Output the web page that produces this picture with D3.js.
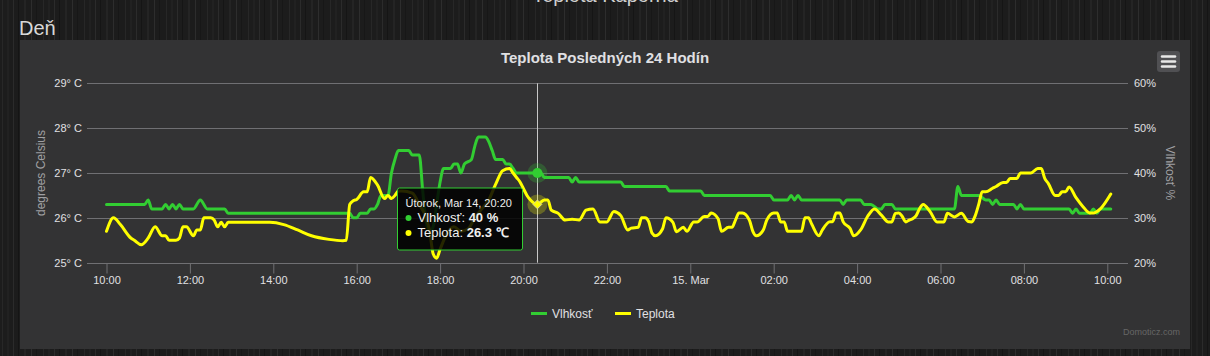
<!DOCTYPE html>
<html><head><meta charset="utf-8">
<script src="https://cdn.jsdelivr.net/npm/d3@7"></script>
<style>
body{margin:0;background:#1b1b1b;overflow:hidden}
svg{display:block}
text{font-family:"Liberation Sans",Arial,sans-serif}
</style>
</head><body>
<svg id="c" width="1210" height="356"></svg>
<script>
// ---------------- DATA ----------------
const humTimes = ["10:00","10:55","11:00","11:05","11:20","11:25","11:30","11:35","11:40","11:45","11:50","12:05","12:15","12:25","12:50","12:55","15:50","15:55","16:00","16:05","16:15","16:20","16:25","16:30","16:35","16:45","16:50","16:55","17:00","17:15","17:20","17:30","17:35","17:40","17:45","17:50","17:55","18:00","18:05","18:15","18:20","18:25","18:30","18:35","18:45","18:50","18:55","19:05","19:10","19:15","19:20","19:30","19:35","19:40","19:45","19:50","20:20","20:25","20:30","21:05","21:10","21:15","21:20","22:20","22:25","23:25","23:30","00:15","00:20","01:55","02:00","02:20","02:25","02:30","02:35","02:40","03:35","03:40","03:45","04:05","04:10","04:20","04:30","04:35","04:40","04:50","04:55","06:20","06:25","06:30","06:55","07:05","07:10","07:15","07:20","07:25","07:45","07:50","07:55","08:00","09:05","09:10","09:15","09:20","09:35","09:40","09:45","09:50","10:05"];
const humValues = [33,33,34,32,32,33,32,33,32,33,32,32,34,32,32,31,31,30,30,31,31,32,32,33,35,35,40,43,45,45,44,44,36,29,27,28,33,38,41,41,42,42,40,42,43,46,48,48,47,45,43,43,42,42,41,40,40,40,39,39,38,39,38,38,37,37,36,36,35,35,34,34,35,34,35,34,34,33,34,34,33,33,32,32,33,33,32,32,37,35,35,34,34,33,34,33,33,32,33,32,32,31,32,31,31,32,31,32,32];

const tempTimes = ["10:00","10:10","10:20","10:35","10:40","10:50","11:00","11:10","11:20","11:25","11:30","11:40","11:45","11:50","11:55","12:05","12:10","12:15","12:20","12:30","12:35","12:40","12:45","12:50","12:55","13:55","14:15","14:35","14:55","15:20","15:40","15:45","15:50","15:55","16:00","16:10","16:15","16:20","16:30","16:40","16:45","16:50","16:55","17:00","17:05","17:20","17:30","17:40","17:45","17:50","17:55","18:00","18:10","18:20","18:30","18:40","18:50","19:00","19:10","19:20","19:30","19:40","19:45","19:50","19:55","20:00","20:05","20:10","20:20","20:30","20:35","20:40","20:50","21:00","21:10","21:20","21:30","21:40","21:50","22:00","22:10","22:20","22:30","22:35","22:45","22:50","22:55","23:00","23:05","23:10","23:20","23:25","23:35","23:40","23:50","23:55","00:05","00:10","00:20","00:25","00:30","00:40","00:45","00:55","01:00","01:05","01:10","01:15","01:25","01:30","01:35","01:45","01:50","02:00","02:05","02:10","02:15","02:20","02:40","02:45","02:50","02:55","03:05","03:10","03:20","03:25","03:30","03:35","03:40","03:50","03:55","04:05","04:15","04:25","04:35","04:45","04:50","04:55","05:00","05:05","05:10","05:15","05:20","05:25","05:30","05:35","05:45","05:55","06:05","06:10","06:20","06:30","06:40","06:45","06:50","06:55","07:00","07:05","07:15","07:20","07:30","07:35","07:40","07:50","07:55","08:10","08:20","08:25","08:30","08:35","08:45","08:50","08:55","09:00","09:05","09:15","09:25","09:35","09:40","09:50","10:05"];
const tempValues = [25.7,26.0,25.85,25.55,25.5,25.4,25.55,25.8,25.6,25.6,25.5,25.5,25.55,25.8,25.8,25.6,25.73,25.73,26.0,26.0,25.95,25.8,25.9,25.8,25.9,25.9,25.85,25.73,25.6,25.52,25.49,25.5,26.3,26.38,26.41,26.58,26.58,26.9,26.73,26.43,26.5,26.43,26.5,26.6,26.6,26.55,26.3,26.0,25.7,25.2,25.1,25.3,25.65,25.8,25.7,25.75,26.0,26.2,26.4,26.75,27.05,27.1,27.0,26.9,26.8,26.65,26.5,26.4,26.3,26.4,26.4,26.17,26.1,25.95,25.97,25.95,26.17,26.2,25.91,25.91,26.14,26.05,25.73,25.77,25.79,26.0,26.0,25.92,25.66,25.6,25.75,26.0,25.9,25.69,25.79,25.7,25.91,25.91,26.03,26.03,26.11,25.98,25.7,25.79,25.79,25.95,26.11,26.11,25.95,25.7,25.6,25.73,25.95,26.11,26.11,25.91,25.91,25.7,25.7,26.0,26.0,25.85,25.6,25.73,25.91,25.92,26.11,26.11,25.91,25.76,25.6,25.73,26.03,26.2,26.06,25.91,25.91,26.1,26.11,26.03,25.91,25.95,25.98,26.05,26.21,26.3,26.14,25.91,25.91,26.1,26.02,26.1,25.92,25.91,26.05,26.3,26.58,26.58,26.66,26.7,26.79,26.79,26.88,26.88,27.0,27.0,27.1,27.1,26.88,26.77,26.5,26.5,26.58,26.58,26.69,26.45,26.25,26.11,26.11,26.2,26.53];

const xTickTimes  = ["10:00","12:00","14:00","16:00","18:00","20:00","22:00","00:00","02:00","04:00","06:00","08:00","10:00"];
const xTickLabels = ["10:00","12:00","14:00","16:00","18:00","20:00","22:00","15. Mar","02:00","04:00","06:00","08:00","10:00"];
const tempTicks = [25,26,27,28,29];
const tempTickLabels = ["25° C","26° C","27° C","28° C","29° C"];
const humTicks = [20,30,40,50,60];
const humTickLabels = ["20%","30%","40%","50%","60%"];
const seriesNames = ["Vlhkosť","Teplota"];
const hoverTime = "20:20";
const weekdays = ["Nedeľa","Pondelok","Útorok","Streda","Štvrtok","Piatok","Sobota"];

// ---------------- HELPERS ----------------
function parseSeq(times){
  let day = 14, prev = -1;
  return times.map(s => {
    const [h,m] = s.split(":").map(Number);
    const mins = h*60+m;
    if (mins < prev) day++;
    prev = mins;
    return new Date(2023, 2, day, h, m);
  });
}
const humDates = parseSeq(humTimes);
const tempDates = parseSeq(tempTimes);
const tickDates = parseSeq(xTickTimes);
const hum = humDates.map((d,i)=>({t:d, v:humValues[i]}));
const temp = tempDates.map((d,i)=>({t:d, v:tempValues[i]}));

const GREEN = "#32cd32", YELLOW = "#ffff00";
const W = 1210, H = 356;
const plot = {l:87, r:1128, t:83.3, b:262.7};

const svg = d3.select("#c");
const defs = svg.append("defs");

// textured page background
const pat = defs.append("pattern").attr("id","tex").attr("width",41).attr("height",8).attr("patternUnits","userSpaceOnUse");
pat.append("rect").attr("width",41).attr("height",8).attr("fill","#1c1c1c");
[[2,1,"#272727"],[7,2,"#212121"],[13,1,"#2b2b2b"],[18,1,"#151515"],[24,2,"#242424"],[31,1,"#2d2d2d"],[36,1,"#171717"]]
  .forEach(([x,w,c])=>pat.append("rect").attr("x",x).attr("width",w).attr("height",8).attr("fill",c));
svg.append("rect").attr("width",W).attr("height",H).attr("fill","url(#tex)");

// page headings
svg.append("text").attr("x",605).attr("y",2).attr("text-anchor","middle")
  .attr("font-size",20).attr("fill","#cfcfcf").text("Teplota Kaporna");
svg.append("text").attr("x",19).attr("y",35).attr("font-size",20).attr("fill","#d8d8d8").text("Deň");

// chart panel
svg.append("rect").attr("x",20).attr("y",40).attr("width",1170).attr("height",309).attr("fill","#333334");

// title
svg.append("text").attr("x",605).attr("y",63).attr("text-anchor","middle")
  .attr("font-size",15).attr("font-weight","bold").attr("fill","#e0e0e3").text("Teplota Posledných 24 Hodín");

// scales
const x = d3.scaleTime().domain([tickDates[0], tickDates[tickDates.length-1]]).range([106.5, 1107.3]);
const yT = d3.scaleLinear().domain([25,29]).range([plot.b, plot.t]);
const yH = d3.scaleLinear().domain([20,60]).range([plot.b, plot.t]);

// gridlines
svg.append("g").selectAll("line").data(tempTicks).join("line")
  .attr("x1",plot.l).attr("x2",plot.r)
  .attr("y1",d=>Math.round(yT(d))+0.5).attr("y2",d=>Math.round(yT(d))+0.5)
  .attr("stroke","#707073").attr("stroke-width",1);

// left axis
const gL = svg.append("g").attr("transform",`translate(${plot.l},0)`)
  .call(d3.axisLeft(yT).tickValues(tempTicks).tickFormat((d,i)=>tempTickLabels[i]).tickSize(0).tickPadding(5));
gL.select(".domain").remove();
gL.selectAll("text").attr("fill","#e0e0e3").attr("font-size",11).attr("font-family","Liberation Sans, Arial, sans-serif");

// right axis
const gR = svg.append("g").attr("transform",`translate(${plot.r},0)`)
  .call(d3.axisRight(yH).tickValues(humTicks).tickFormat((d,i)=>humTickLabels[i]).tickSize(0).tickPadding(6));
gR.select(".domain").remove();
gR.selectAll("text").attr("fill","#e0e0e3").attr("font-size",11).attr("font-family","Liberation Sans, Arial, sans-serif");

// axis titles
svg.append("text").attr("transform",`translate(45,${(plot.t+plot.b)/2}) rotate(-90)`)
  .attr("text-anchor","middle").attr("font-size",12).attr("fill","#a0a0a3").text("degrees Celsius");
svg.append("text").attr("transform",`translate(1166,${(plot.t+plot.b)/2}) rotate(90)`)
  .attr("text-anchor","middle").attr("font-size",12).attr("fill","#a0a0a3").text("Vlhkosť %");

// bottom axis
const gB = svg.append("g").attr("transform",`translate(0,${Math.round(plot.b)+0.5})`)
  .call(d3.axisBottom(x).tickValues(tickDates).tickFormat((d,i)=>xTickLabels[i]).tickSize(10).tickPadding(3));
gB.select(".domain").attr("d",`M${plot.l},0H${plot.r}`).attr("stroke","#707073");
gB.selectAll(".tick line").attr("stroke","#707073");
gB.selectAll("text").attr("fill","#e0e0e3").attr("font-size",11).attr("font-family","Liberation Sans, Arial, sans-serif");

// clip
defs.append("clipPath").attr("id","clip").append("rect")
  .attr("x",plot.l).attr("y",plot.t-10).attr("width",plot.r-plot.l).attr("height",plot.b-plot.t+20);

// crosshair
const hT = parseSeq([hoverTime])[0];
const hx = Math.round(x(hT))+0.5;
svg.append("line").attr("x1",hx).attr("x2",hx).attr("y1",plot.t).attr("y2",plot.b)
  .attr("stroke","#c8c8c8").attr("stroke-width",1);

// lines
const gLines = svg.append("g").attr("clip-path","url(#clip)");
const lineH = d3.line().x(d=>x(d.t)).y(d=>yH(d.v)).curve(d3.curveMonotoneX);
const lineT = d3.line().x(d=>x(d.t)).y(d=>yT(d.v)).curve(d3.curveMonotoneX);
gLines.append("path").datum(hum).attr("d",lineH).attr("fill","none").attr("stroke",GREEN)
  .attr("stroke-width",3).attr("stroke-linejoin","round").attr("stroke-linecap","round");
gLines.append("path").datum(temp).attr("d",lineT).attr("fill","none").attr("stroke",YELLOW)
  .attr("stroke-width",3).attr("stroke-linejoin","round").attr("stroke-linecap","round");

// hover markers
const hHum = hum.find(d=>+d.t===+hT), hTemp = temp.find(d=>+d.t===+hT);
svg.append("circle").attr("cx",x(hHum.t)).attr("cy",yH(hHum.v)).attr("r",10).attr("fill",GREEN).attr("opacity",0.25);
svg.append("circle").attr("cx",x(hHum.t)).attr("cy",yH(hHum.v)).attr("r",5).attr("fill",GREEN);
svg.append("circle").attr("cx",x(hTemp.t)).attr("cy",yT(hTemp.v)).attr("r",10).attr("fill",YELLOW).attr("opacity",0.25);
svg.append("path").attr("transform",`translate(${x(hTemp.t)},${yT(hTemp.v)})`)
  .attr("d",d3.symbol().type(d3.symbolDiamond2).size(50)).attr("fill",YELLOW).attr("stroke","#d8d8a0").attr("stroke-width",1);

// tooltip
const tip = svg.append("g").attr("transform",`translate(${hx-140},188)`);
tip.append("rect").attr("x",0).attr("y",0).attr("width",125).attr("height",62).attr("rx",2)
  .attr("fill","rgba(0,0,0,0.85)").attr("stroke",GREEN).attr("stroke-width",1);
tip.append("text").attr("x",8).attr("y",19).attr("font-size",11).attr("fill","#f0f0f0")
  .text(weekdays[hT.getDay()] + ", " + d3.timeFormat("%b %d, %H:%M")(hT));
const rows = [{c:GREEN,n:seriesNames[0],v:hHum.v+" %"},{c:YELLOW,n:seriesNames[1],v:d3.format(".1f")(hTemp.v)+" ℃"}];
rows.forEach((r,i)=>{
  const yy = 34 + i*15;
  tip.append("circle").attr("cx",11).attr("cy",yy-4).attr("r",3).attr("fill",r.c);
  const t = tip.append("text").attr("x",20).attr("y",yy).attr("font-size",13).attr("fill","#f0f0f0");
  t.append("tspan").text(r.n+": ");
  t.append("tspan").attr("font-weight","bold").text(r.v);
});

// menu button
const mb = svg.append("g").attr("transform","translate(1157,51)");
mb.append("rect").attr("width",23).attr("height",21).attr("rx",3).attr("fill","#505053");
[5.5,10.5,15.5].forEach(yy=>mb.append("line").attr("x1",5).attr("x2",18).attr("y1",yy).attr("y2",yy)
  .attr("stroke","#e8e8e8").attr("stroke-width",2.5).attr("stroke-linecap","round"));

// legend
const legend = [{n:seriesNames[0],c:GREEN,x:531},{n:seriesNames[1],c:YELLOW,x:615}];
legend.forEach(l=>{
  svg.append("line").attr("x1",l.x).attr("x2",l.x+16).attr("y1",313.5).attr("y2",313.5).attr("stroke",l.c).attr("stroke-width",3);
  svg.append("text").attr("x",l.x+21).attr("y",318).attr("font-size",12).attr("fill","#e0e0e3").text(l.n);
});

// credits
svg.append("text").attr("x",1180).attr("y",335).attr("text-anchor","end").attr("font-size",9)
  .attr("fill","#666").text("Domoticz.com");
</script>
</body></html>
